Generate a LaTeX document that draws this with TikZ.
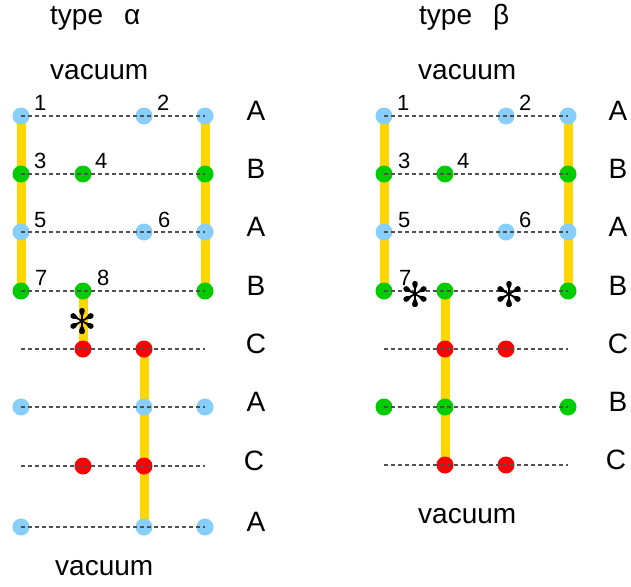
\documentclass[tikz,border=0pt]{standalone}
\usepackage{fontspec}
\setmainfont{Liberation Sans}
\usetikzlibrary{backgrounds,calc}

\definecolor{dotblue}{RGB}{135,206,250}
\definecolor{dotgreen}{RGB}{0,204,0}
\definecolor{dotred}{RGB}{255,0,0}
\definecolor{bondcol}{RGB}{255,215,0}
\definecolor{rungcol}{RGB}{80,80,80}

\tikzset{
  site/.style={circle, inner sep=0pt, minimum size=17pt},
  asite/.style={site, fill=dotblue},
  bsite/.style={site, fill=dotgreen},
  csite/.style={site, fill=dotred},
  bond/.style={draw=bondcol, line width=9pt},
  rung/.style={draw=rungcol, line width=1.1pt, dash pattern=on 4pt off 3pt},
  layerlbl/.style={font=\fontsize{28}{30}\selectfont, anchor=base, inner sep=0pt},
  toplbl/.style={font=\fontsize{28}{30}\selectfont, anchor=base west, inner sep=0pt},
  num/.style={font=\fontsize{22}{24}\selectfont, anchor=base west, inner sep=0pt},
  % six-spoked asterisk: thin stems ending in teardrops
  astmark/.pic={
    \foreach \a in {90,150,...,450} {
      \draw[line width=1.7pt] (0,0) -- (\a:6);
      \fill (\a:3) -- ($(\a:10.2)+(\a+112.9:2.8)$)
        arc[start angle=\a+112.9, end angle=\a-112.9, radius=2.8] -- cycle;
    }
  },
}

\begin{document}
\begin{tikzpicture}[x=1pt, y=-1pt]
\useasboundingbox (0,0) rectangle (631,586);

% ---------- type alpha ----------
\node[toplbl] (ta) at (50,25) {type\hspace{21pt}α};
\node[toplbl] (va1) at (50,79) {vacuum};
\node[toplbl] (va2) at (55,575) {vacuum};

% sites
\node[asite] (a11) at (21,116) {};  \node[asite] (a13) at (144,116) {}; \node[asite] (a14) at (205,116) {};
\node[bsite] (a21) at (21,174) {};  \node[bsite] (a22) at (83,174) {};  \node[bsite] (a24) at (205,174) {};
\node[asite] (a31) at (21,232) {};  \node[asite] (a33) at (144,232) {}; \node[asite] (a34) at (205,232) {};
\node[bsite] (a41) at (21,291) {};  \node[bsite] (a42) at (83,291) {};  \node[bsite] (a44) at (205,291) {};
\coordinate (a51) at (21,349);      \node[csite] (a52) at (83,349) {};  \node[csite] (a53) at (144,349) {}; \coordinate (a54) at (205,349);
\node[asite] (a61) at (21,407) {};  \node[asite] (a63) at (144,407) {}; \node[asite] (a64) at (205,407) {};
\coordinate (a71) at (21,466);      \node[csite] (a72) at (83,466) {};  \node[csite] (a73) at (144,466) {}; \coordinate (a74) at (205,466);
\node[asite] (a81) at (21,527) {};  \node[asite] (a83) at (144,527) {}; \node[asite] (a84) at (205,527) {};

% bonds
\begin{scope}[on background layer]
  \draw[bond] (a11.center) -- (a41.center);
  \draw[bond] (a14.center) -- (a44.center);
  \draw[bond] (a42.center) -- (a52.center);
  \draw[bond] (a53.center) -- (a83.center);
\end{scope}

% rungs
\draw[rung] (a11.center) -- (a14.center);
\draw[rung] (a21.center) -- (a24.center);
\draw[rung] (a31.center) -- (a34.center);
\draw[rung] (a41.center) -- (a44.center);
\draw[rung] (a51) -- (a54);
\draw[rung] (a61.center) -- (a64.center);
\draw[rung] (a71) -- (a74);
\draw[rung] (a81.center) -- (a84.center);

% site numbers
\node[num] (an1) at (34,110) {1};
\node[num] (an2) at (157,110) {2};
\node[num] (an3) at (34,168) {3};
\node[num] (an4) at (95,168) {4};
\node[num] (an5) at (34,227) {5};
\node[num] (an6) at (158,227) {6};
\node[num] (an7) at (35,285) {7};
\node[num] (an8) at (97,285) {8};

% layer letters
\node[layerlbl] (al1) at (256,120) {A};
\node[layerlbl] (al2) at (256,178) {B};
\node[layerlbl] (al3) at (256,236) {A};
\node[layerlbl] (al4) at (256,295) {B};
\node[layerlbl] (al5) at (256,353) {C};
\node[layerlbl] (al6) at (256,411) {A};
\node[layerlbl] (al7) at (254,470) {C};
\node[layerlbl] (al8) at (256,531) {A};

\pic at (82,321) {astmark};

% ---------- type beta ----------
\node[toplbl] (tb) at (419,25) {type\hspace{21pt}β};
\node[toplbl] (vb1) at (418,79) {vacuum};
\node[toplbl] (vb2) at (418,523) {vacuum};

\node[asite] (b11) at (384,116) {}; \node[asite] (b13) at (506,116) {}; \node[asite] (b14) at (568,116) {};
\node[bsite] (b21) at (384,174) {}; \node[bsite] (b22) at (445,174) {}; \node[bsite] (b24) at (568,174) {};
\node[asite] (b31) at (384,232) {}; \node[asite] (b33) at (506,232) {}; \node[asite] (b34) at (568,232) {};
\node[bsite] (b41) at (384,291) {}; \node[bsite] (b42) at (445,291) {}; \node[bsite] (b44) at (568,291) {};
\coordinate (b51) at (384,349);     \node[csite] (b52) at (445,349) {}; \node[csite] (b53) at (506,349) {}; \coordinate (b54) at (568,349);
\node[bsite] (b61) at (384,407) {}; \node[bsite] (b62) at (445,407) {}; \node[bsite] (b64) at (568,407) {};
\coordinate (b71) at (384,465);     \node[csite] (b72) at (445,465) {}; \node[csite] (b73) at (506,465) {}; \coordinate (b74) at (568,465);

\begin{scope}[on background layer]
  \draw[bond] (b11.center) -- (b41.center);
  \draw[bond] (b14.center) -- (b44.center);
  \draw[bond] (b42.center) -- (b72.center);
\end{scope}

\draw[rung] (b11.center) -- (b14.center);
\draw[rung] (b21.center) -- (b24.center);
\draw[rung] (b31.center) -- (b34.center);
\draw[rung] (b41.center) -- (b44.center);
\draw[rung] (b51) -- (b54);
\draw[rung] (b61.center) -- (b64.center);
\draw[rung] (b71) -- (b74);

\node[num] (bn1) at (397,110) {1};
\node[num] (bn2) at (519,110) {2};
\node[num] (bn3) at (398,168) {3};
\node[num] (bn4) at (457,168) {4};
\node[num] (bn5) at (398,227) {5};
\node[num] (bn6) at (519,227) {6};
\node[num] (bn7) at (399,285) {7};

\node[layerlbl] (bl1) at (618,120) {A};
\node[layerlbl] (bl2) at (618,178) {B};
\node[layerlbl] (bl3) at (618,236) {A};
\node[layerlbl] (bl4) at (618,295) {B};
\node[layerlbl] (bl5) at (618,353) {C};
\node[layerlbl] (bl6) at (618,411) {B};
\node[layerlbl] (bl7) at (616,469) {C};

\pic at (415,294) {astmark};
\pic at (509,294) {astmark};
\end{tikzpicture}
\end{document}
